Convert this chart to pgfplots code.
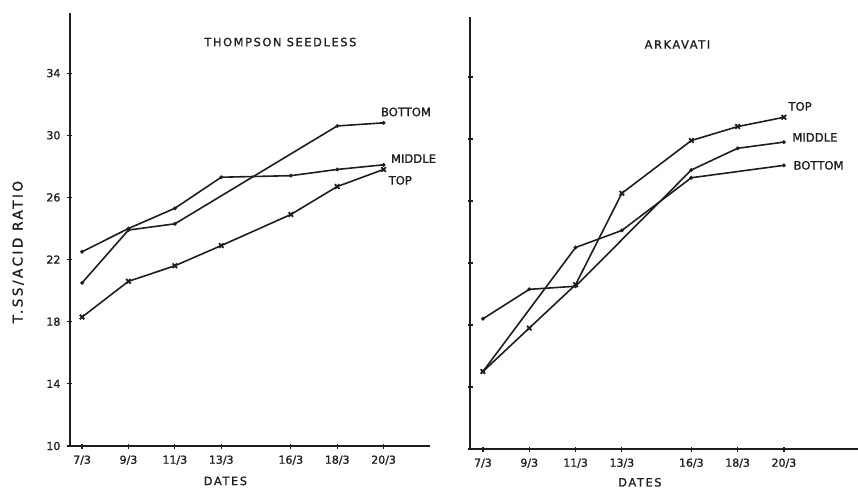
\documentclass[border=0pt]{standalone}
\usepackage{fontspec}
\setmainfont{DejaVu Sans}[FakeBold=1.2]
\newfontfamily\spaced[LetterSpace=14,FakeBold=1.2]{DejaVu Sans}
\newfontfamily\yspaced[LetterSpace=18,FakeBold=1.2]{DejaVu Sans}
\usepackage{pgfplots}
\pgfplotsset{compat=1.18}
\definecolor{ink}{HTML}{1E1E1E}
\tikzset{
  curvelab/.style={anchor=west, font=\fontsize{5.8}{6}\selectfont, text=ink, inner sep=0pt},
  titlelab/.style={font=\spaced\fontsize{5.7}{6}\selectfont, text=ink},
}
\begin{document}
\begin{tikzpicture}
\useasboundingbox (0pt,0pt) rectangle (429pt,244.5pt);
\pgfplotsset{
  panel/.style={
    scale only axis,
    axis lines=left,
    axis line style={-, line width=0.8pt, ink},
    clip=false,
    ymin=10, ymax=37.87,
    ytick={10,14,18,22,26,30,34},
    xtick={7,9,11,13,16,18,20},
    xticklabels={7/3,9/3,11/3,13/3,16/3,18/3,20/3},
    tick align=center,
    major tick length=2.5pt,
    tick style={line width=0.6pt, ink},
    tick label style={font=\fontsize{5.5}{6}\selectfont, text=ink},
    /pgf/number format/assume math mode=true,
    every axis plot/.append style={line width=0.8pt, ink},
  },
  topline/.style={mark=x, mark size=1.6pt, mark options={line width=0.9pt}},
  otherline/.style={mark=*, mark size=0.5pt},
}
% ---------------- left panel ----------------
\begin{axis}[panel,
  at={(35pt,21.5pt)}, anchor=south west,
  width=180pt, height=216.5pt,
  xmin=6.48, xmax=22.0,
]
\addplot[topline] coordinates {(7,18.3) (9,20.6) (11,21.6) (13,22.9) (16,24.9) (18,26.7) (20,27.8)};
\addplot[otherline] coordinates {(7,22.5) (9,24.0) (11,25.3) (13,27.3) (16,27.4) (18,27.8) (20,28.1)};
\addplot[otherline] coordinates {(7,20.5) (9,23.9) (11,24.3) (18,30.6) (20,30.8)};
\node[titlelab] at (axis cs:15.55,36.0) {THOMPSON SEEDLESS};
\node[curvelab] at (axis cs:19.87,31.5) {BOTTOM};
\node[curvelab] at (axis cs:20.3,28.5) {MIDDLE};
\node[curvelab] at (axis cs:20.2,27.1) {TOP};
\node[titlelab] at (axis cs:13.18,7.75) {DATES};
\node[rotate=90, font=\yspaced\fontsize{6.8}{7}\selectfont, text=ink] at (rel axis cs:-0.144,0.448) {T.SS/ACID RATIO};
\end{axis}
% ---------------- right panel ----------------
\begin{axis}[panel,
  at={(235pt,20pt)}, anchor=south west,
  width=194pt, height=216pt,
  xmin=6.44, xmax=23.2,
  yticklabels={},
]
\addplot[topline] coordinates {(7,15.0) (9,17.8) (11,20.6) (13,26.5) (16,29.9) (18,30.8) (20,31.4)};
\addplot[otherline] coordinates {(7,18.4) (9,20.3) (11,20.5) (16,28.0) (18,29.4) (20,29.8)};
\addplot[otherline] coordinates {(7,15.0) (11,23.0) (13,24.1) (16,27.5) (20,28.3)};
\node[titlelab] at (axis cs:15.4,36.1) {ARKAVATI};
\node[curvelab] at (axis cs:20.18,32.1) {TOP};
\node[curvelab] at (axis cs:20.35,30.1) {MIDDLE};
\node[curvelab] at (axis cs:20.4,28.3) {BOTTOM};
\node[titlelab] at (axis cs:13.78,7.85) {DATES};
\end{axis}
\end{tikzpicture}
\end{document}
